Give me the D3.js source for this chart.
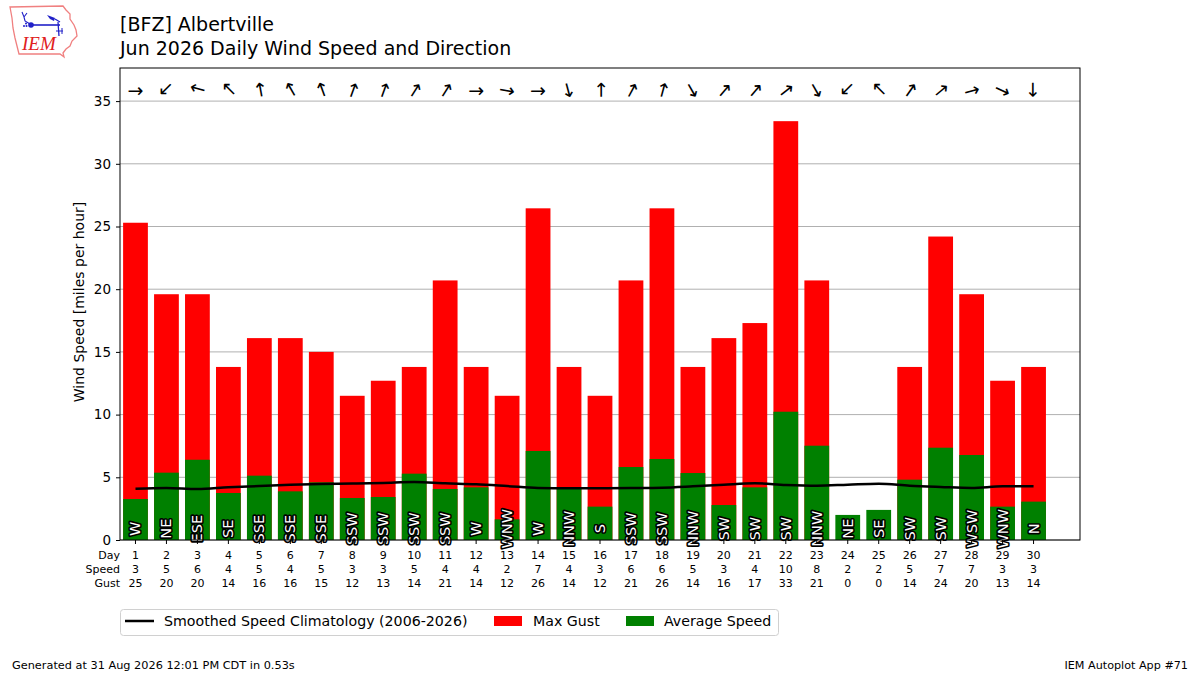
<!DOCTYPE html>
<html>
<head>
<meta charset="utf-8">
<script src="https://cdn.jsdelivr.net/npm/d3@7"></script>
<style>
  html, body { margin: 0; padding: 0; background: #fff; }
  svg { display: block; font-family: "DejaVu Sans", sans-serif; }
</style>
</head>
<body>
<svg id="chart" width="1200" height="675"></svg>
<script>
// ---- data ----
const days = d3.range(1, 31);
const avgSpeed = [3.27, 5.37, 6.40, 3.75, 5.13, 3.88, 4.6, 3.35, 3.43, 5.29,
                  4.07, 4.20, 1.65, 7.10, 4.12, 2.66, 5.82, 6.46, 5.34, 2.79,
                  4.20, 10.23, 7.52, 2.00, 2.40, 4.81, 7.36, 6.78, 2.66, 3.06];
const maxGust = [25.3, 19.6, 19.6, 13.8, 16.1, 16.1, 15.0, 11.5, 12.7, 13.8,
                 20.7, 13.8, 11.5, 26.45, 13.8, 11.5, 20.7, 26.45, 13.8, 16.1,
                 17.3, 33.4, 20.7, 0, 0, 13.8, 24.2, 19.6, 12.7, 13.8];
const dirLabels = ["W","NE","ESE","SE","SSE","SSE","SSE","SSW","SSW","SSW",
                   "SSW","W","WNW","W","NNW","S","SSW","SSW","NNW","SW",
                   "SW","SW","NNW","NE","SE","SW","SW","WSW","WNW","N"];
const dirDegrees = [270, 45, 105, 135, 170, 150, 160, 200, 200, 212,
                    212, 270, 280, 270, 345, 180, 208, 195, 330, 220,
                    220, 232, 330, 45, 135, 215, 230, 255, 295, 0];
const climo = [4.09, 4.15, 4.06, 4.2, 4.3, 4.4, 4.47, 4.5, 4.55, 4.62,
               4.52, 4.44, 4.3, 4.15, 4.12, 4.12, 4.14, 4.17, 4.28, 4.41,
               4.52, 4.39, 4.33, 4.41, 4.49, 4.33, 4.23, 4.15, 4.28, 4.28];
const yTicks = [0, 5, 10, 15, 20, 25, 30, 35];
const rowLabels = ["Day", "Speed", "Gust"];

// ---- layout ----
const svg = d3.select("#chart");
const L = 120, R = 1080, T = 68, B = 540;
const x = d3.scaleLinear().domain([0.5, 31.5]).range([L, R]);
const y = d3.scaleLinear().domain([0, 37.64]).range([B, T]);
const bw = x(1.4) - x(1);

// gridlines
svg.append("g").selectAll("line").data(yTicks).join("line")
  .attr("x1", L).attr("x2", R)
  .attr("y1", d => y(d)).attr("y2", d => y(d))
  .attr("stroke", "#b0b0b0").attr("stroke-width", 1);

// bars: gust (red) then average (green)
svg.append("g").selectAll("rect").data(days).join("rect")
  .attr("x", d => x(d) - bw)
  .attr("width", bw * 2)
  .attr("y", (d, i) => y(maxGust[i]))
  .attr("height", (d, i) => B - y(maxGust[i]))
  .attr("fill", "#ff0000");
svg.append("g").selectAll("rect").data(days).join("rect")
  .attr("x", d => x(d) - bw)
  .attr("width", bw * 2)
  .attr("y", (d, i) => y(avgSpeed[i]))
  .attr("height", (d, i) => B - y(avgSpeed[i]))
  .attr("fill", "#008000");

// climatology line
const line = d3.line().x((d, i) => x(days[i])).y(d => y(d)).curve(d3.curveMonotoneX);
svg.append("path").datum(climo)
  .attr("d", line).attr("fill", "none")
  .attr("stroke", "#000").attr("stroke-width", 2.5);

// direction labels inside bars
svg.append("g").selectAll("text").data(days).join("text")
  .attr("transform", (d, i) => `translate(${x(d)},${y(0.9)}) rotate(-90)`)
  .attr("text-anchor", "middle")
  .attr("dominant-baseline", "central")
  .attr("font-size", 14.5)
  .attr("fill", "#fff")
  .attr("stroke", "#000")
  .attr("stroke-width", 3.2)
  .attr("stroke-linejoin", "round")
  .attr("paint-order", "stroke")
  .text((d, i) => dirLabels[i]);

// arrows
svg.append("g").selectAll("text").data(days).join("text")
  .attr("transform", (d, i) => `translate(${x(d)},${y(35.9)}) rotate(${dirDegrees[i] + 90})`)
  .attr("text-anchor", "middle")
  .attr("dominant-baseline", "central")
  .attr("font-size", 19)
  .attr("fill", "#000")
  .text("\u2192");

// frame
svg.append("rect").attr("x", L).attr("y", T).attr("width", R - L).attr("height", B - T)
  .attr("fill", "none").attr("stroke", "#000").attr("stroke-width", 1);

// y axis
const yAxis = d3.axisLeft(y).tickValues(yTicks).tickSize(4).tickPadding(5);
const gy = svg.append("g").attr("transform", `translate(${L},0)`).call(yAxis);
gy.select(".domain").remove();
gy.selectAll("text").attr("font-size", 13.5).attr("font-family", "DejaVu Sans").attr("fill", "#000");
gy.selectAll("line").attr("stroke", "#000");

// x ticks
svg.append("g").selectAll("line").data(days).join("line")
  .attr("x1", d => x(d)).attr("x2", d => x(d))
  .attr("y1", B).attr("y2", B + 4).attr("stroke", "#000");

// bottom table
const rowY = [555, 569, 583];
const rowVals = [days.map(String), avgSpeed.map(v => String(Math.round(v))), maxGust.map(v => String(Math.round(v)))];
rowLabels.forEach((lab, r) => {
  svg.append("text").attr("x", L).attr("y", rowY[r]).attr("text-anchor", "end")
    .attr("dominant-baseline", "central").attr("font-size", 11).text(lab);
  svg.append("g").selectAll("text").data(days).join("text")
    .attr("x", d => x(d)).attr("y", rowY[r])
    .attr("text-anchor", "middle").attr("dominant-baseline", "central")
    .attr("font-size", 11).text((d, i) => rowVals[r][i]);
});

// y label
svg.append("text").attr("transform", `translate(84,${(T + B) / 2 - 2}) rotate(-90)`)
  .attr("text-anchor", "middle").attr("font-size", 14)
  .text("Wind Speed [miles per hour]");

// titles
svg.append("text").attr("x", 120).attr("y", 31).attr("font-size", 19).text("[BFZ] Albertville");
svg.append("text").attr("x", 120).attr("y", 55).attr("font-size", 19).text("Jun 2026 Daily Wind Speed and Direction");

// legend
const lg = svg.append("g");
lg.append("rect").attr("x", 120.5).attr("y", 609.5).attr("width", 658).attr("height", 26)
  .attr("rx", 3).attr("fill", "#fff").attr("stroke", "#d0d0d0");
lg.append("line").attr("x1", 125).attr("x2", 154).attr("y1", 621).attr("y2", 621)
  .attr("stroke", "#000").attr("stroke-width", 2.5);
lg.append("text").attr("x", 164).attr("y", 621).attr("dominant-baseline", "central")
  .attr("font-size", 14.2).text("Smoothed Speed Climatology (2006-2026)");
lg.append("rect").attr("x", 494).attr("y", 616).attr("width", 28).attr("height", 10).attr("fill", "#ff0000");
lg.append("text").attr("x", 533).attr("y", 621).attr("dominant-baseline", "central")
  .attr("font-size", 14.2).text("Max Gust");
lg.append("rect").attr("x", 626).attr("y", 616).attr("width", 28).attr("height", 10).attr("fill", "#008000");
lg.append("text").attr("x", 664).attr("y", 621).attr("dominant-baseline", "central")
  .attr("font-size", 14.2).text("Average Speed");

// footer
svg.append("text").attr("x", 12).attr("y", 669).attr("font-size", 11.3)
  .text("Generated at 31 Aug 2026 12:01 PM CDT in 0.53s");
svg.append("text").attr("x", 1188).attr("y", 669).attr("font-size", 11.2).attr("text-anchor", "end")
  .text("IEM Autoplot App #71");

// logo
const logo = svg.append("g");
logo.append("path")
  .attr("d", "M10,7 L63,6 L66,10 L70,14 L70,19 L74,25 L76,30 L77,36 L72,41 L70,46 L66,49 L63,53 L64,57 L60,54 L19,54 L17,46 L15,38 L13,28 L12,18 Z")
  .attr("fill", "#fff").attr("stroke", "#f08080").attr("stroke-width", 1.3);
const blue = "#2020c8";
logo.append("line").attr("x1", 31).attr("y1", 25).attr("x2", 60).attr("y2", 25).attr("stroke", blue).attr("stroke-width", 1.6);
logo.append("circle").attr("cx", 31).attr("cy", 25).attr("r", 2.8).attr("fill", blue);
logo.append("path").attr("d", "M47,15 L55,18 L54,21 L50,19 Z").attr("fill", blue);
logo.append("path").attr("d", "M55,19 L60,22").attr("stroke", blue).attr("stroke-width", 1.2);
logo.append("line").attr("x1", 58).attr("y1", 22).attr("x2", 59).attr("y2", 36).attr("stroke", blue).attr("stroke-width", 1.3);
logo.append("line").attr("x1", 56).attr("y1", 31).attr("x2", 63).attr("y2", 31).attr("stroke", blue).attr("stroke-width", 1);
logo.append("line").attr("x1", 62).attr("y1", 28).attr("x2", 62).attr("y2", 34).attr("stroke", blue).attr("stroke-width", 1);
logo.append("path").attr("d", "M22,12 L24,17 L27,13 M24,17 L25,21 L30,24").attr("fill", "none").attr("stroke", blue).attr("stroke-width", 1.1);
logo.append("circle").attr("cx", 24).attr("cy", 26).attr("r", 1).attr("fill", blue);
logo.append("circle").attr("cx", 26).attr("cy", 23.5).attr("r", 1).attr("fill", blue);
logo.append("circle").attr("cx", 26.5).attr("cy", 26).attr("r", 1).attr("fill", blue);
logo.append("text").attr("x", 22).attr("y", 50).attr("font-family", "Liberation Serif, serif")
  .attr("font-style", "italic").attr("font-size", 19).attr("fill", "#e02020").text("IEM");
</script>
</body>
</html>
